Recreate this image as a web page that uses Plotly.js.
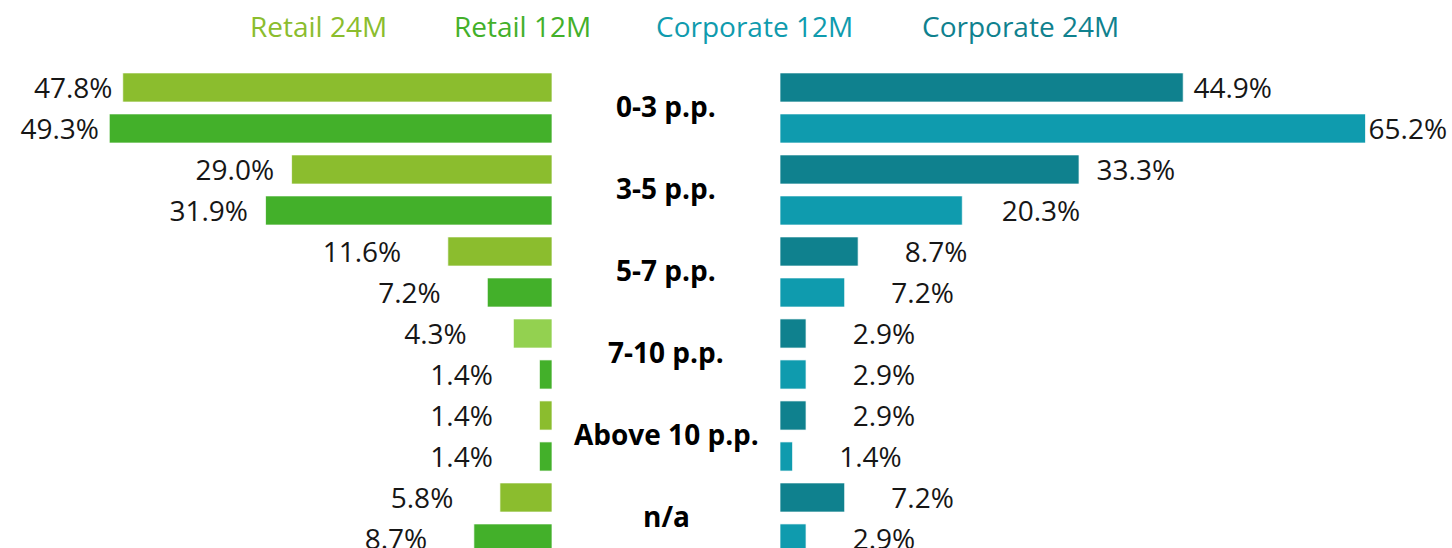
<!DOCTYPE html>
<html>
<head>
<meta charset="utf-8">
<script src="https://cdn.plot.ly/plotly-3.0.1.min.js"></script>
<style>html,body{margin:0;padding:0;background:#fff;}#chart{width:1452px;height:548px;}</style>
</head>
<body>
<div id="chart"></div>
<script>
const categories = ["0-3 p.p.", "3-5 p.p.", "5-7 p.p.", "7-10 p.p.", "Above 10 p.p.", "n/a"];
const seriesNames = ["Retail 24M", "Retail 12M", "Corporate 12M", "Corporate 24M"];
const retail24 = [47.8, 29.0, 11.6, 4.3, 1.4, 5.8];
const retail12 = [49.3, 31.9, 7.2, 1.4, 1.4, 8.7];
const corporate24 = [44.9, 33.3, 8.7, 2.9, 2.9, 7.2];
const corporate12 = [65.2, 20.3, 7.2, 2.9, 1.4, 2.9];

const C_R24 = "#8bbd2e", C_R12 = "#43b02a", C_R24_HL = "#93d150", C_C12 = "#0f9bae", C_C24 = "#0f818e";
const FONT = "Open Sans, Noto Sans, sans-serif";
const r24Colors = categories.map((c, i) => i === 3 ? C_R24_HL : C_R24);

// label spacing: small bars get their labels set further from the bar end
const NB = "\u00a0";
function padCount(v) { return v >= 60 ? 0 : v >= 40 ? 1 : v >= 30 ? 2 : v >= 25 ? 2 : v >= 15 ? 5 : 6; }
const leftLabels = arr => arr.map(v => v.toFixed(1) + "%" + NB.repeat(padCount(v)));
const rightLabels = arr => arr.map(v => NB.repeat(padCount(v)) + v.toFixed(1) + "%");

const common = {
  type: "bar", orientation: "h", textposition: "outside",
  textfont: {family: FONT, size: 28, color: "#161616"}, cliponaxis: false, constraintext: "none",
  hoverinfo: "skip", showlegend: false
};
const line = {color: "rgba(255,255,255,0.7)", width: 1};
const traces = [
  Object.assign({}, common, {name: seriesNames[0], y: categories, x: retail24, text: leftLabels(retail24), xaxis: "x", yaxis: "y", marker: {color: r24Colors, line}}),
  Object.assign({}, common, {name: seriesNames[1], y: categories, x: retail12, text: leftLabels(retail12), xaxis: "x", yaxis: "y", marker: {color: C_R12, line}}),
  Object.assign({}, common, {name: seriesNames[3], y: categories, x: corporate24, text: rightLabels(corporate24), xaxis: "x2", yaxis: "y", marker: {color: C_C24, line}}),
  Object.assign({}, common, {name: seriesNames[2], y: categories, x: corporate12, text: rightLabels(corporate12), xaxis: "x2", yaxis: "y", marker: {color: C_C12, line}})
];

const W = 1452, pxPerUnit = 8.98;
const leftEnd = 552, rightStart = 780;
const hidden = {showgrid: false, zeroline: false, showticklabels: false, showline: false, ticks: ""};

const legendX = [318, 522, 755, 1020];
const legendColors = [C_R24, C_R12, C_C12, C_C24];
const annotations = seriesNames.map((n, i) => ({
  text: n, xref: "paper", yref: "paper", x: legendX[i] / W, y: 1 + 24 / 498,
  xanchor: "center", yanchor: "middle", showarrow: false,
  font: {family: FONT, size: 28, color: legendColors[i]}
})).concat(categories.map(c => ({
  text: "<b>" + c + "</b>", xref: "paper", yref: "y", x: 666 / W, y: c,
  xanchor: "center", yanchor: "middle", showarrow: false, yshift: 2,
  font: {family: FONT, size: 28, color: "#000"}
})));

const layout = {
  width: W, height: 548,
  margin: {l: 0, r: 0, t: 50, b: 0, pad: 0},
  paper_bgcolor: "#fff", plot_bgcolor: "#fff",
  barmode: "group", bargap: 0, bargroupgap: 0.29,
  xaxis: Object.assign({}, hidden, {domain: [0, leftEnd / W], range: [leftEnd / pxPerUnit, 0], anchor: "y"}),
  xaxis2: Object.assign({}, hidden, {domain: [rightStart / W, 1], range: [0, (W - rightStart) / pxPerUnit], anchor: "y"}),
  yaxis: Object.assign({}, hidden, {type: "category", categoryorder: "array", categoryarray: categories, range: [5.366, -0.707]}),
  annotations: annotations
};

Plotly.newPlot("chart", traces, layout, {displayModeBar: false, staticPlot: true});
</script>
</body>
</html>
